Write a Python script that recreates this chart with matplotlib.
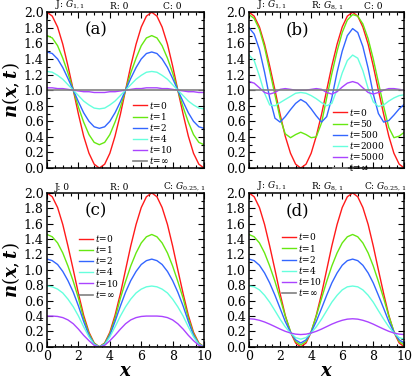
import matplotlib
matplotlib.use("Agg")
import matplotlib.pyplot as plt
from matplotlib.ticker import MultipleLocator

plt.rcParams['font.family'] = ['DejaVu Serif']
plt.rcParams['mathtext.fontset'] = 'dejavuserif'

# sample positions along x
x = [0.00, 0.33, 0.67, 1.00, 1.33, 1.67, 2.00, 2.33, 2.67, 3.00, 3.33,
     3.67, 4.00, 4.33, 4.67, 5.00, 5.33, 5.67, 6.00, 6.33, 6.67,
     7.00, 7.33, 7.67, 8.00, 8.33, 8.67, 9.00, 9.33, 9.67, 10.00]

# initial profile (same in all panels)
n_t0 = [2.00, 1.95, 1.81, 1.59, 1.31, 1.00, 0.69, 0.41, 0.19, 0.05, 0.00,
        0.05, 0.19, 0.41, 0.69, 1.00, 1.31, 1.59, 1.81, 1.95, 2.00,
        1.95, 1.81, 1.59, 1.31, 1.00, 0.69, 0.41, 0.19, 0.05, 0.00]

# panel (a)
a_t1 = [1.70, 1.67, 1.57, 1.41, 1.22, 1.00, 0.78, 0.59, 0.43, 0.33, 0.30,
        0.33, 0.43, 0.59, 0.78, 1.00, 1.22, 1.41, 1.57, 1.67, 1.70,
        1.67, 1.57, 1.41, 1.22, 1.00, 0.78, 0.59, 0.43, 0.33, 0.30]
a_t2 = [1.49, 1.47, 1.40, 1.29, 1.15, 1.00, 0.85, 0.71, 0.60, 0.53, 0.51,
        0.53, 0.60, 0.71, 0.85, 1.00, 1.15, 1.29, 1.40, 1.47, 1.49,
        1.47, 1.40, 1.29, 1.15, 1.00, 0.85, 0.71, 0.60, 0.53, 0.51]
a_t4 = [1.24, 1.23, 1.19, 1.14, 1.07, 1.00, 0.93, 0.86, 0.81, 0.77, 0.76,
        0.77, 0.81, 0.86, 0.93, 1.00, 1.07, 1.14, 1.19, 1.23, 1.24,
        1.23, 1.19, 1.14, 1.07, 1.00, 0.93, 0.86, 0.81, 0.77, 0.76]
a_t10 = [1.03, 1.03, 1.02, 1.02, 1.01, 1.00, 0.99, 0.98, 0.98, 0.97, 0.97,
         0.97, 0.98, 0.98, 0.99, 1.00, 1.01, 1.02, 1.02, 1.03, 1.03,
         1.03, 1.02, 1.02, 1.01, 1.00, 0.99, 0.98, 0.98, 0.97, 0.97]
a_inf = 1.0

# panel (b)
b_t50 = [1.97, 1.92, 1.78, 1.55, 1.25, 0.94, 0.64, 0.44, 0.39, 0.43, 0.46,
         0.43, 0.39, 0.40, 0.58, 0.90, 1.21, 1.50, 1.74, 1.90, 1.97,
         1.95, 1.85, 1.66, 1.40, 1.10, 0.79, 0.52, 0.39, 0.41, 0.46]
b_t500 = [1.80, 1.72, 1.52, 1.23, 0.90, 0.64, 0.59, 0.66, 0.75, 0.83, 0.88,
          0.84, 0.76, 0.67, 0.59, 0.66, 0.90, 1.23, 1.50, 1.70, 1.79,
          1.74, 1.56, 1.28, 0.95, 0.70, 0.59, 0.61, 0.68, 0.76, 0.82]
b_t2000 = [1.45, 1.38, 1.18, 0.96, 0.81, 0.80, 0.84, 0.88, 0.92, 0.96, 0.97,
           0.96, 0.93, 0.89, 0.84, 0.80, 0.83, 1.01, 1.22, 1.38, 1.45,
           1.41, 1.25, 1.02, 0.85, 0.79, 0.81, 0.86, 0.90, 0.93, 0.94]
b_t5000 = [1.11, 1.09, 1.03, 0.97, 0.95, 0.97, 1.01, 1.02, 1.01, 1.00, 1.00,
           1.00, 1.01, 1.02, 1.01, 0.97, 0.95, 0.98, 1.04, 1.09, 1.11,
           1.09, 1.03, 0.97, 0.95, 0.97, 1.00, 1.02, 1.02, 1.01, 1.00]
b_inf = 1.0

# panel (c)
c_t1 = [1.46, 1.43, 1.35, 1.22, 1.05, 0.85, 0.63, 0.37, 0.17, 0.045, 0.00,
        0.045, 0.17, 0.37, 0.63, 0.85, 1.05, 1.22, 1.35, 1.43, 1.46,
        1.43, 1.35, 1.22, 1.05, 0.85, 0.63, 0.37, 0.17, 0.045, 0.00]
c_t2 = [1.14, 1.12, 1.07, 0.98, 0.86, 0.71, 0.53, 0.33, 0.15, 0.035, 0.00,
        0.035, 0.15, 0.33, 0.53, 0.71, 0.86, 0.98, 1.07, 1.12, 1.14,
        1.12, 1.07, 0.98, 0.86, 0.71, 0.53, 0.33, 0.15, 0.035, 0.00]
c_t4 = [0.79, 0.78, 0.75, 0.70, 0.62, 0.52, 0.40, 0.26, 0.13, 0.03, 0.00,
        0.03, 0.13, 0.26, 0.40, 0.52, 0.62, 0.70, 0.75, 0.78, 0.79,
        0.78, 0.75, 0.70, 0.62, 0.52, 0.40, 0.26, 0.13, 0.03, 0.00]
c_t10 = [0.40, 0.40, 0.395, 0.38, 0.35, 0.30, 0.23, 0.15, 0.08, 0.02, 0.00,
         0.02, 0.08, 0.15, 0.23, 0.30, 0.35, 0.38, 0.395, 0.40, 0.40,
         0.40, 0.395, 0.38, 0.35, 0.30, 0.23, 0.15, 0.08, 0.02, 0.00]
c_inf = 0.0

# panel (d)
d_t1 = [1.46, 1.43, 1.35, 1.22, 1.05, 0.85, 0.63, 0.40, 0.20, 0.07, 0.025,
        0.07, 0.20, 0.40, 0.63, 0.85, 1.05, 1.22, 1.35, 1.43, 1.46,
        1.43, 1.35, 1.22, 1.05, 0.85, 0.63, 0.40, 0.20, 0.07, 0.025]
d_t2 = [1.14, 1.12, 1.06, 0.96, 0.83, 0.67, 0.50, 0.33, 0.19, 0.09, 0.05,
        0.09, 0.19, 0.33, 0.50, 0.67, 0.83, 0.96, 1.06, 1.12, 1.14,
        1.12, 1.06, 0.96, 0.83, 0.67, 0.50, 0.33, 0.19, 0.09, 0.05]
d_t4 = [0.79, 0.78, 0.74, 0.67, 0.58, 0.47, 0.36, 0.26, 0.18, 0.12, 0.10,
        0.12, 0.18, 0.26, 0.36, 0.47, 0.58, 0.67, 0.74, 0.78, 0.79,
        0.78, 0.74, 0.67, 0.58, 0.47, 0.36, 0.26, 0.18, 0.12, 0.10]
d_t10 = [0.365, 0.36, 0.345, 0.323, 0.295, 0.263, 0.231, 0.202, 0.18, 0.165, 0.16,
         0.165, 0.18, 0.202, 0.231, 0.263, 0.295, 0.323, 0.345, 0.36, 0.365,
         0.36, 0.345, 0.323, 0.295, 0.263, 0.231, 0.202, 0.18, 0.165, 0.16]
d_inf = 0.0

times_short = ['0', '1', '2', '4', '10', r'\infty']
times_long = ['0', '50', '500', '2000', '5000', r'\infty']
colors = ['#ff1a1a', '#66e811', '#3366ff', '#66ffdd', '#aa44ff', '#808080']

panels = [
    dict(tag='(a)', curves=[n_t0, a_t1, a_t2, a_t4, a_t10], inf=a_inf,
         times=times_short, tops=['J: $G_{1,1}$', 'R: 0', 'C: 0'],
         rect=[0.114, 0.560, 0.380, 0.408], leg=(0.548, 0.44)),
    dict(tag='(b)', curves=[n_t0, b_t50, b_t500, b_t2000, b_t5000], inf=b_inf,
         times=times_long, tops=['J: $G_{1,1}$', 'R: $G_{8,1}$', 'C: 0'],
         rect=[0.603, 0.560, 0.376, 0.408], leg=(0.542, 0.395)),
    dict(tag='(c)', curves=[n_t0, c_t1, c_t2, c_t4, c_t10], inf=c_inf,
         times=times_short, tops=['J: 0', 'R: 0', 'C: $G_{0.25,1}$'],
         rect=[0.114, 0.092, 0.380, 0.403], leg=(0.204, 0.74)),
    dict(tag='(d)', curves=[n_t0, d_t1, d_t2, d_t4, d_t10], inf=d_inf,
         times=times_short, tops=['J: $G_{1,1}$', 'R: $G_{8,1}$', 'C: $G_{0.25,1}$'],
         rect=[0.603, 0.092, 0.376, 0.403], leg=(0.213, 0.75)),
]

fig = plt.figure(figsize=(4.13, 3.82), dpi=100)

for i, p in enumerate(panels):
    ax = fig.add_axes(p['rect'])
    for vals, t, col in zip(p['curves'], p['times'], colors):
        ax.plot(x, vals, color=col, lw=1.0, label=r'$t$=$' + t + '$')
    ax.axhline(p['inf'], color=colors[-1], lw=1.2,
               label=r'$t$=$' + p['times'][-1] + '$')

    ax.set_xlim(0, 10)
    ax.set_ylim(0, 2)
    ax.xaxis.set_major_locator(MultipleLocator(2))
    ax.xaxis.set_minor_locator(MultipleLocator(0.5))
    ax.yaxis.set_major_locator(MultipleLocator(0.2))
    ax.yaxis.set_minor_locator(MultipleLocator(0.1))
    ax.yaxis.set_major_formatter(plt.FormatStrFormatter('%.1f'))
    ax.tick_params(which='both', direction='in', top=True, right=True,
                   labelsize=9, width=0.8)
    ax.tick_params(which='major', length=4, pad=2.5)
    ax.tick_params(which='minor', length=2)
    for s in ax.spines.values():
        s.set_linewidth(1.1)

    if i < 2:
        ax.tick_params(labelbottom=False)
    else:
        ax.set_xlabel(r'$\boldsymbol{x}$', fontsize=13, labelpad=-1)
    if i % 2 == 0:
        ax.set_ylabel(r'$\boldsymbol{n}(\boldsymbol{x},\boldsymbol{t})$',
                      fontsize=13, labelpad=1)

    ax.text(0.31, 0.885, p['tag'], transform=ax.transAxes, fontsize=12,
            ha='center', va='center')
    for fx, s in zip([0.05, 0.40, 0.74], p['tops']):
        ax.text(fx, 1.006, s, transform=ax.transAxes, fontsize=6.5,
                ha='left', va='bottom')

    ax.legend(loc='upper left', bbox_to_anchor=p['leg'], frameon=False,
              fontsize=6.5, handlelength=1.5, handletextpad=0.3,
              labelspacing=0.02, borderpad=0, borderaxespad=0)

fig.savefig('out.png', dpi=100)
